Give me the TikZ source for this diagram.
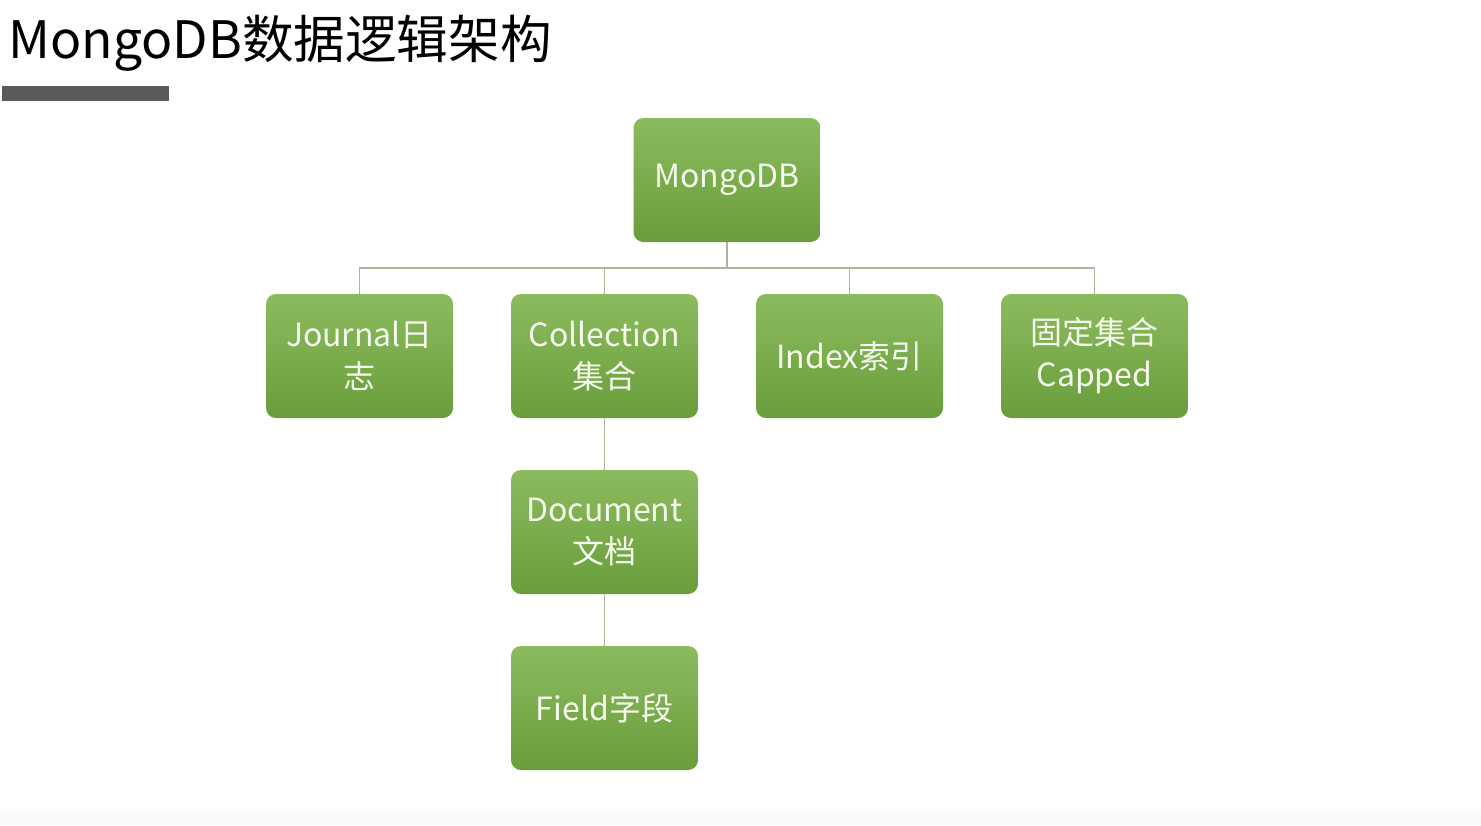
\documentclass[tikz,border=0pt]{standalone}
\usepackage{fontspec}
\setmainfont{Noto Sans CJK SC}
\usepackage{tikz}
\usetikzlibrary{positioning}

\definecolor{boxtop}{HTML}{8CBB5E}
\definecolor{boxbot}{HTML}{699D3B}
\definecolor{boxtext}{HTML}{F6FAEE}
\definecolor{linkcol}{HTML}{A9B59C}
\definecolor{barcol}{HTML}{5A5A5A}

\tikzset{
  databox/.style={rectangle,rounded corners=5pt,minimum width=93.5pt,minimum height=62pt,
    top color=boxtop,bottom color=boxbot,draw=none,text=boxtext,align=center,
    font=\fontsize{16pt}{21pt}\selectfont,inner sep=0pt},
  link/.style={draw=linkcol,line width=0.6pt}
}

\begin{document}
\begin{tikzpicture}[x=0.5pt,y=-0.5pt]
\useasboundingbox (0,0) rectangle (1481,825);
\fill[white] (0,0) rectangle (1481,825);
\fill[black!2] (0,811) rectangle (1481,825);

% title
\node at (8,58)[anchor=base west,inner sep=0pt,font=\fontsize{25.8pt}{30pt}\selectfont](title){MongoDB数据逻辑架构};
\fill[barcol] (2,86) rectangle (169,101);

% boxes
\node at (727,180)[databox](mongo){MongoDB};
\node at (359.5,356)[databox](journal){Journal日\\志};
\node at (604.5,356)[databox](collection){Collection\\集合};
\node at (849.5,356)[databox](index){Index索引};
\node at (1094.5,356)[databox](capped){固定集合\\Capped};
\node at (604.5,532)[databox](document){Document\\文档};
\node at (604.5,708)[databox](field){Field字段};

% connectors
\coordinate (bus) at (727,268);
\draw[link] (mongo) -- (bus);
\draw[link] (journal.north) |- (bus);
\draw[link] (collection.north) |- (bus);
\draw[link] (index.north) |- (bus);
\draw[link] (capped.north) |- (bus);
\draw[link] (collection) -- (document);
\draw[link] (document) -- (field);
\end{tikzpicture}
\end{document}
